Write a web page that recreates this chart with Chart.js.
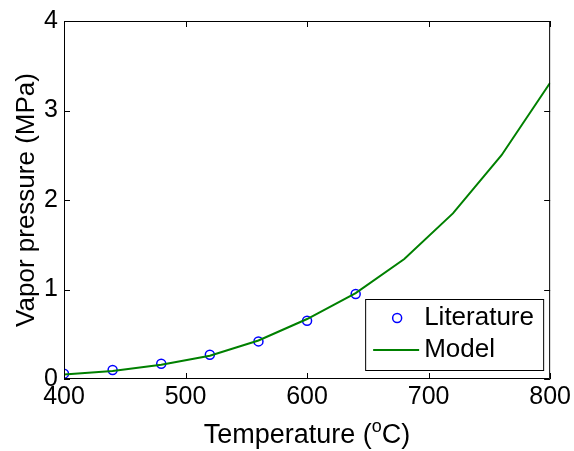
<!DOCTYPE html>
<html>
<head>
<meta charset="utf-8">
<script src="https://cdn.jsdelivr.net/npm/chart.js@4.4.0/dist/chart.umd.min.js"></script>
<style>
  body { margin: 0; background: #fff; }
</style>
</head>
<body>
<canvas id="chart" width="574" height="451"></canvas>
<script>
// data
const litTemp = [400, 440, 480, 520, 560, 600, 640];
const litPressure = [0.06, 0.10, 0.17, 0.27, 0.42, 0.65, 0.95];
const modelTemp = [400, 440, 480, 520, 560, 600, 640, 680, 720, 760, 800];
const modelPressure = [0.05, 0.09, 0.16, 0.26, 0.43, 0.67, 0.96, 1.34, 1.85, 2.50, 3.31];
const xTicks = [400, 500, 600, 700, 800];
const yTicks = [0, 1, 2, 3, 4];
const seriesNames = ['Literature', 'Model'];

const FONT = "'Liberation Sans', Arial, Helvetica, sans-serif";

// matlab style box with inward ticks
const boxPlugin = {
  id: 'box',
  afterDatasetsDraw(chart) {
    const {ctx, chartArea: a, scales} = chart;
    const len = 6;
    ctx.save();
    ctx.strokeStyle = '#000';
    ctx.lineWidth = 1;
    ctx.beginPath();
    ctx.rect(a.left + 0.5, a.top + 0.5, a.right - a.left - 1, a.bottom - a.top - 1);
    xTicks.forEach(v => {
      const x = Math.round(scales.x.getPixelForValue(v)) + 0.5;
      ctx.moveTo(x, a.bottom); ctx.lineTo(x, a.bottom - len);
      ctx.moveTo(x, a.top); ctx.lineTo(x, a.top + len);
    });
    yTicks.forEach(v => {
      const y = Math.round(scales.y.getPixelForValue(v)) + 0.5;
      ctx.moveTo(a.left, y); ctx.lineTo(a.left + len, y);
      ctx.moveTo(a.right, y); ctx.lineTo(a.right - len, y);
    });
    ctx.stroke();
    ctx.restore();
  },
  afterDraw(chart) {
    const {ctx, chartArea: a} = chart;
    ctx.save();
    // x axis title with superscript o
    const cx = (a.left + a.right) / 2;
    const base = 443;
    const big = '27px ' + FONT, small = '18px ' + FONT;
    ctx.font = big;
    const w1 = ctx.measureText('Temperature (').width;
    const w3 = ctx.measureText('C)').width;
    ctx.font = small;
    const w2 = ctx.measureText('o').width;
    let x = cx - (w1 + w2 + w3) / 2;
    ctx.fillStyle = '#000';
    ctx.textBaseline = 'alphabetic';
    ctx.textAlign = 'left';
    ctx.font = big;
    ctx.fillText('Temperature (', x, base);
    x += w1;
    ctx.font = small;
    ctx.fillText('o', x, base - 11);
    x += w2;
    ctx.font = big;
    ctx.fillText('C)', x, base);

    // legend box, bottom right inside the axes
    const ds = chart.data.datasets;
    const lw = 178, lh = 71;
    const lx = a.right - 7 - lw, ly = a.bottom - 9 - lh;
    ctx.fillStyle = '#fff';
    ctx.fillRect(lx, ly, lw, lh);
    ctx.strokeStyle = '#000';
    ctx.lineWidth = 1;
    ctx.strokeRect(lx + 0.5, ly + 0.5, lw, lh);
    const rowY = [ly + 19, ly + 51];
    // marker
    ctx.beginPath();
    ctx.arc(lx + 32, rowY[0], ds[0].pointRadius, 0, Math.PI * 2);
    ctx.strokeStyle = ds[0].borderColor;
    ctx.lineWidth = ds[0].borderWidth;
    ctx.stroke();
    // line sample
    ctx.beginPath();
    ctx.moveTo(lx + 8, rowY[1]);
    ctx.lineTo(lx + 54, rowY[1]);
    ctx.strokeStyle = ds[1].borderColor;
    ctx.lineWidth = ds[1].borderWidth;
    ctx.stroke();
    ctx.fillStyle = '#000';
    ctx.font = '26px ' + FONT;
    ctx.textBaseline = 'middle';
    ctx.fillText(seriesNames[0], lx + 59, rowY[0]);
    ctx.fillText(seriesNames[1], lx + 59, rowY[1]);
    ctx.restore();
  }
};

new Chart(document.getElementById('chart'), {
  type: 'scatter',
  data: {
    datasets: [
      {
        label: seriesNames[0],
        data: litTemp.map((t, i) => ({x: t, y: litPressure[i]})),
        showLine: false,
        pointStyle: 'circle',
        pointRadius: 4.5,
        borderColor: '#0000ff',
        backgroundColor: 'rgba(0,0,0,0)',
        borderWidth: 1.5,
        order: 1
      },
      {
        label: seriesNames[1],
        data: modelTemp.map((t, i) => ({x: t, y: modelPressure[i]})),
        showLine: true,
        pointRadius: 0,
        borderColor: '#008000',
        borderWidth: 2,
        tension: 0,
        order: 0
      }
    ]
  },
  options: {
    responsive: false,
    animation: false,
    layout: { padding: { top: 18, right: 23, left: 0, bottom: 0 } },
    plugins: { legend: { display: false }, tooltip: { enabled: false } },
    scales: {
      x: {
        type: 'linear',
        min: 400, max: 800,
        grid: { display: false, drawTicks: false },
        border: { display: false },
        afterFit(s) { s.height = 72; },
        afterBuildTicks(s) { s.ticks = xTicks.map(v => ({value: v})); },
        ticks: {
          color: '#000',
          font: { family: FONT, size: 25 },
          padding: 3,
          maxRotation: 0,
          autoSkip: false
        }
      },
      y: {
        min: 0, max: 4,
        grid: { display: false, drawTicks: false },
        border: { display: false },
        afterFit(s) { s.width = 64; },
        afterBuildTicks(s) { s.ticks = yTicks.map(v => ({value: v})); },
        title: {
          display: true,
          text: 'Vapor pressure (MPa)',
          color: '#000',
          font: { family: FONT, size: 26 },
          padding: { top: 11, bottom: 0 }
        },
        ticks: {
          color: '#000',
          font: { family: FONT, size: 25 },
          padding: 6
        }
      }
    }
  },
  plugins: [boxPlugin]
});
</script>
</body>
</html>
